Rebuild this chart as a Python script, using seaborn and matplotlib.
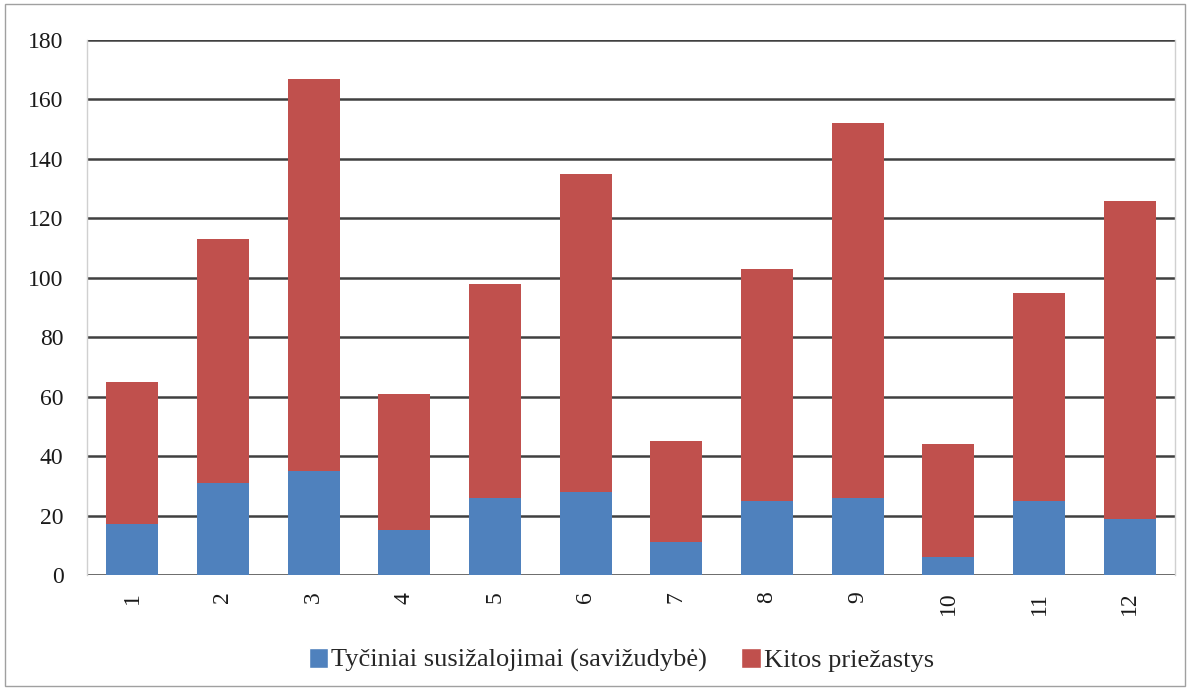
import matplotlib
matplotlib.use("Agg")
import matplotlib.pyplot as plt
import numpy as np
import pandas as pd
import seaborn as sns
from matplotlib.patches import Patch, Rectangle

# values
months = [str(m) for m in range(1, 13)]
suicides = [17, 31, 35, 15, 26, 28, 11, 25, 26, 6, 25, 19]
other = [48, 82, 132, 46, 72, 107, 34, 78, 126, 38, 70, 107]

label_blue = "Tyčiniai susižalojimai (savižudybė)"
label_red = "Kitos priežastys"
col_blue = "#4F81BD"
col_red = "#C0504D"

df = pd.DataFrame({"month": months, "blue": suicides, "red": other})
df["total"] = df["blue"] + df["red"]

sns.set_style("white")
plt.rcParams["font.family"] = ["Liberation Serif", "DejaVu Serif"]

fig = plt.figure(figsize=(11.9, 6.9), dpi=100)
ax = fig.add_axes([87 / 1190, 115 / 690, 1088 / 1190, 535 / 690])

# stacked: total bar in red, blue part drawn on top of it
sns.barplot(data=df, x="month", y="total", color=col_red, width=0.57,
            saturation=1, linewidth=0, ax=ax, zorder=3)
sns.barplot(data=df, x="month", y="blue", color=col_blue, width=0.57,
            saturation=1, linewidth=0, ax=ax, zorder=4)

ax.set_ylim(0, 180)
ax.set_xlim(-0.5, 11.5)
ax.set_yticks(np.arange(0, 181, 20))
ax.yaxis.grid(True, color="#404040", linewidth=1.8, zorder=0)
ax.set_axisbelow(True)
ax.set_xlabel("")
ax.set_ylabel("")
ax.tick_params(axis="both", length=0, labelsize=17, colors="#1a1a1a")
ax.tick_params(axis="x", labelrotation=90, pad=12)
ax.tick_params(axis="y", pad=17)

for side in ["top", "bottom"]:
    ax.spines[side].set_visible(False)
for side in ["left", "right"]:
    ax.spines[side].set_color("#d0d0d0")
    ax.spines[side].set_linewidth(1)

handles = [Patch(facecolor=col_blue, label=label_blue),
           Patch(facecolor=col_red, label=label_red)]
fig.legend(handles=handles, loc="center", bbox_to_anchor=(0.522, 0.043),
           ncol=2, frameon=False, fontsize=19, handlelength=0.75,
           handleheight=0.75, handletextpad=0.1, columnspacing=1.3)

# thin frame around the whole chart
fig.add_artist(Rectangle((5 / 1190, 4 / 690), 1180 / 1190, 682 / 690,
                         transform=fig.transFigure, fill=False,
                         edgecolor="#a0a0a0", linewidth=1))

fig.savefig("out.png", dpi=100)
